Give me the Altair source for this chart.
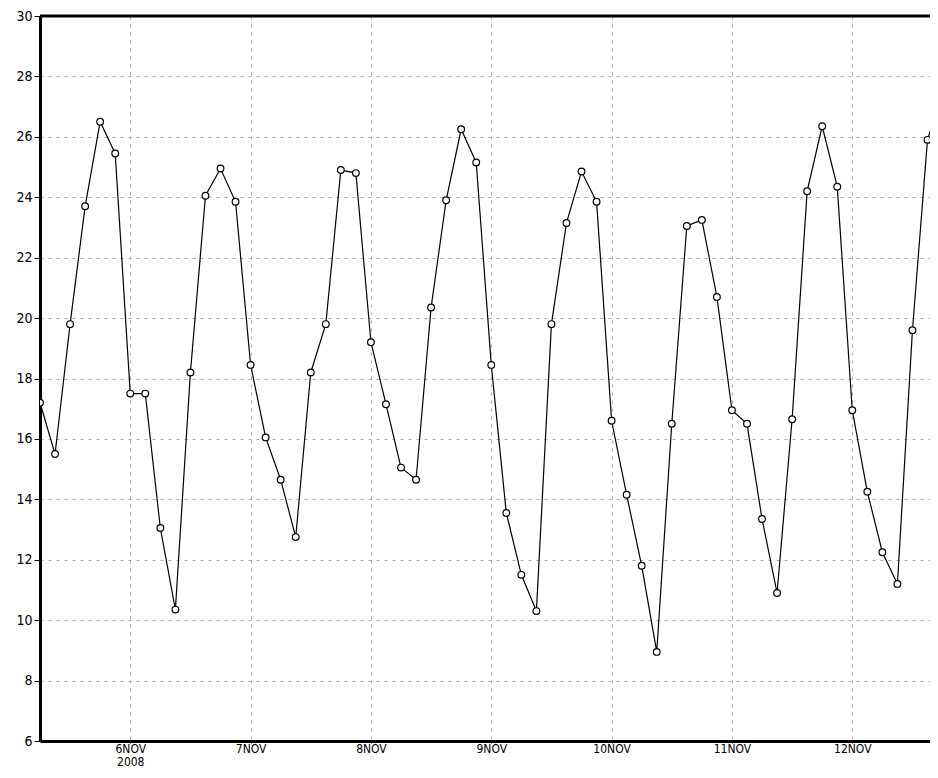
import altair as alt
import pandas as pd

# 3-hourly samples from 5 Nov 2008 06:00 to 12 Nov 2008 18:00
values = [
    17.2, 15.5, 19.8, 23.7, 26.5, 25.45,                 # 5 Nov 06-21
    17.5, 17.5, 13.05, 10.35, 18.2, 24.05, 24.95, 23.85,  # 6 Nov
    18.45, 16.05, 14.65, 12.75, 18.2, 19.8, 24.9, 24.8,   # 7 Nov
    19.2, 17.15, 15.05, 14.65, 20.35, 23.9, 26.25, 25.15, # 8 Nov
    18.45, 13.55, 11.5, 10.3, 19.8, 23.15, 24.85, 23.85,  # 9 Nov
    16.6, 14.15, 11.8, 8.95, 16.5, 23.05, 23.25, 20.7,    # 10 Nov
    16.95, 16.5, 13.35, 10.9, 16.65, 24.2, 26.35, 24.35,  # 11 Nov
    16.95, 14.25, 12.25, 11.2, 19.6, 25.9, 27.5,          # 12 Nov 00-18
]
times = pd.date_range("2008-11-05 06:00", periods=len(values), freq="3h")
y_ticks = list(range(6, 31, 2))
day_ticks = [6, 7, 8, 9, 10, 11, 12]

df = pd.DataFrame({"time": times.strftime("%Y-%m-%dT%H:%M:%S"), "value": values})

FONT = "DejaVu Sans Condensed, Liberation Sans Narrow, DejaVu Sans, sans-serif"
W, H = 890, 725

x = alt.X(
    "time:T",
    scale=alt.Scale(domain=[alt.DateTime(year=2008, month=11, date=5, hours=6),
                            alt.DateTime(year=2008, month=11, date=12, hours=15, minutes=30)]),
    axis=alt.Axis(
        values=[alt.DateTime(year=2008, month=11, date=d) for d in day_ticks],
        labelExpr="date(datum.value) == 6 ? [date(datum.value) + 'NOV', '2008'] : date(datum.value) + 'NOV'",
        title=None,
        grid=True,
        gridColor="#a8a8a8",
        gridDash=[3, 5],
        gridWidth=1,
        domainColor="black",
        domainWidth=3,
        tickColor="black",
        tickSize=2,
        labelFont=FONT,
        labelFontSize=12,
        labelColor="black",
        labelPadding=0,
        labelLineHeight=13.5,
        labelFlush=False,
    ),
)
y = alt.Y(
    "value:Q",
    scale=alt.Scale(domain=[6, 30], nice=False, zero=False),
    axis=alt.Axis(
        values=y_ticks,
        title=None,
        grid=True,
        gridColor="#a8a8a8",
        gridDash=[3, 5],
        gridWidth=1,
        domainColor="black",
        domainWidth=3,
        tickColor="black",
        tickSize=6,
        labelFont=FONT,
        labelFontSize=14,
        labelColor="black",
        labelPadding=2,
    ),
)

base = alt.Chart(df)
line = base.mark_line(color="black", strokeWidth=1.2, clip=True).encode(x=x, y=y)
pts = base.mark_point(shape="circle", filled=True, fill="white", stroke="black",
                      strokeWidth=1.2, size=45, opacity=1, clip=True).encode(x=x, y=y)
top = alt.Chart(pd.DataFrame({"a": [0]})).mark_rule(color="black", strokeWidth=3).encode(
    x=alt.value(0), x2=alt.value(W), y=alt.value(0)
)

chart = alt.layer(line, pts, top).properties(
    width=W,
    height=H,
    padding={"left": 32, "top": 8, "right": 0, "bottom": 29},
    autosize=alt.AutoSizeParams(type="none"),
).configure_view(stroke=None).configure(background="white")

chart.save("out.html", embed_options={"renderer": "svg", "actions": False})
